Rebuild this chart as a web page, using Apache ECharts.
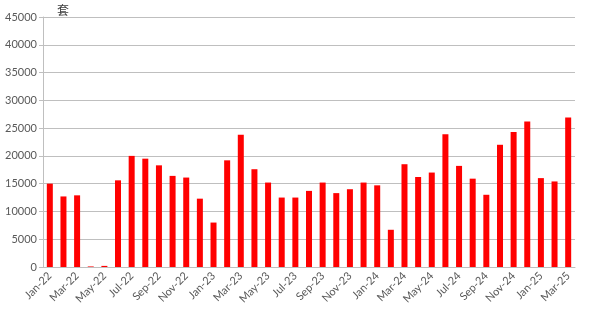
<!DOCTYPE html>
<html><head><meta charset="utf-8">
<script src="https://cdn.jsdelivr.net/npm/echarts@6/dist/echarts.min.js"></script>
<style>html,body{margin:0;padding:0;background:#fff}#c{width:594px;height:322px}</style>
</head><body><div id="c"></div>
<script>
const categories = ["Jan-22","Feb-22","Mar-22","Apr-22","May-22","Jun-22","Jul-22","Aug-22","Sep-22","Oct-22","Nov-22","Dec-22",
"Jan-23","Feb-23","Mar-23","Apr-23","May-23","Jun-23","Jul-23","Aug-23","Sep-23","Oct-23","Nov-23","Dec-23",
"Jan-24","Feb-24","Mar-24","Apr-24","May-24","Jun-24","Jul-24","Aug-24","Sep-24","Oct-24","Nov-24","Dec-24",
"Jan-25","Feb-25","Mar-25"];
const values = [15000,12700,12900,100,200,15600,20000,19500,18300,16400,16100,12300,
8000,19200,23800,17600,15200,12500,12500,13700,15200,13300,14000,15200,
14700,6700,18500,16200,17000,23900,18200,15900,13000,22000,24300,26200,
16000,15400,26900];
const unitLabel = "套";
const chart = echarts.init(document.getElementById('c'));
const font = "Lato, 'Noto Sans CJK SC', sans-serif";
chart.setOption({
  animation:false,
  grid:{left:43,right:19,top:17,bottom:55,containLabel:false},
  xAxis:{type:'category',data:categories,boundaryGap:true,
    axisLine:{lineStyle:{color:'#bfbfbf'}},
    axisTick:{interval:1,length:4,lineStyle:{color:'#bfbfbf'}},
    axisLabel:{interval:1,rotate:45,color:'#595959',fontSize:11,fontFamily:font,margin:7}},
  yAxis:{type:'value',min:0,max:45000,interval:5000,
    name:unitLabel,nameLocation:'end',nameGap:0,
    nameTextStyle:{color:'#404040',fontSize:12,fontFamily:font,align:'left',verticalAlign:'bottom',padding:[0,0,0,14]},
    axisLine:{show:true,lineStyle:{color:'#bfbfbf'}},
    axisTick:{show:true,length:4,lineStyle:{color:'#bfbfbf'}},
    splitLine:{lineStyle:{color:'#bfbfbf'}},
    axisLabel:{color:'#595959',fontSize:11,fontFamily:font,margin:6,formatter:v=>String(v)}},
  series:[{type:'bar',data:values,barWidth:'44%',itemStyle:{color:'#ff0000'}}]
});
</script></body></html>
